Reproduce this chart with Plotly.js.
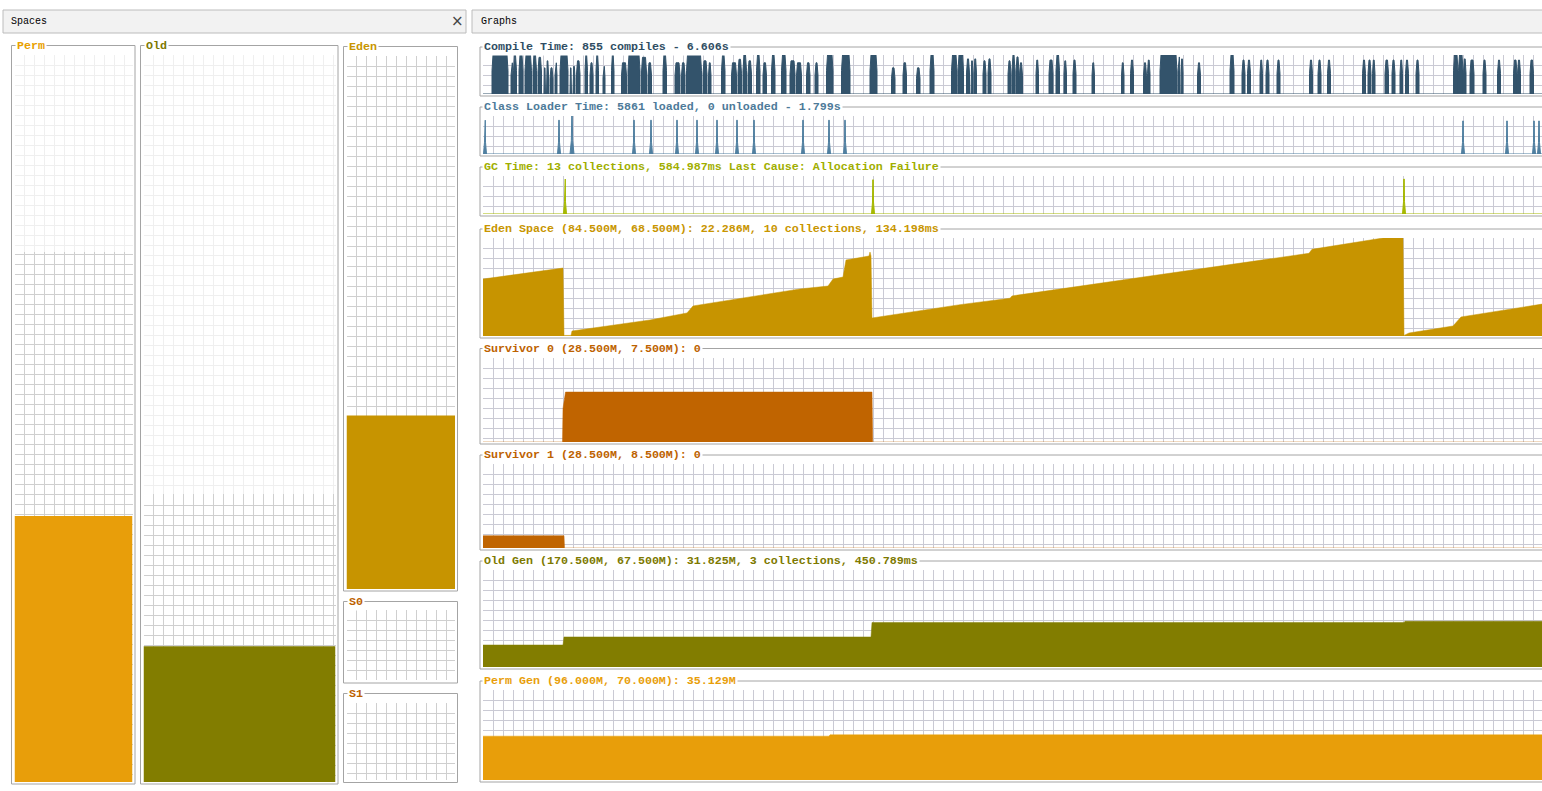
<!DOCTYPE html>
<html><head><meta charset="utf-8">
<script src="https://cdn.plot.ly/plotly-3.0.1.min.js"></script>
<style>html,body{margin:0;padding:0;background:#fff;overflow:hidden}#chart{width:1542px;height:791px}</style>
</head><body><div id="chart"></div>
<script>
// ================= DATA =================
// time axis = sample index (one sample per pixel column in VisualGC)
const sampleCount = 1059;

// Compile Time bursts (sample start, sample end, % of scale)
const compileStart = [9,28,30.5,36,42,50,55,61,63.5,67,72,77,87,90,93.5,102,107,113,120,128.5,138.5,145,158.5,165,180,192,198.5,203.5,220,225.5,238.5,248.5,255,260,265,273.5,280,288.5,298.5,307,313.5,323.5,332,343.5,358.5,387,408.5,420,433.5,447,468.5,475,483.5,488,491,500,505,525,529,533,536.5,553,566,573,581,590,609,638.5,647.5,660.5,664.5,677,695,698,714.5,747,759,764.5,777,783,794,826.5,835,844.5,879.5,885,889.5,902,909,917,922.5,933,970.5,975.5,980.5,987,1000,1014.5,1030.5,1034.5,1047];
const compileEnd = [25,30,33.5,40,48.5,53.5,58.5,62.5,65.5,70,74,85,88.5,92,97,104.5,110,115.5,122,131,143.5,157,163.5,168.5,183.5,197,202,218.5,224,228,242,253.5,258.5,263.5,268.5,277,283.5,292,303,312,318.5,327,335,350,367,394,412,423.5,437,451,474,480.5,486.5,490,493.5,503,508,528,532,536,539.5,555.5,570,576.5,583.5,593,611.5,641,650.5,663.5,667,694,697,700,717.5,751,762,767.5,779.5,786,797,829.5,838,847.5,882.5,888,892,905.5,912,919.5,925.5,936,975,980,983,991,1003,1017.5,1034,1037.5,1050.5];
const compileHeight = [100,80,100,100,100,100,94,67,85,67,80,100,67,71,85,100,80,100,71,100,80,100,94,80,100,80,80,100,85,80,100,80,89,100,85,100,80,100,100,85,80,80,80,100,100,100,67,80,67,100,100,100,90,85,90,85,90,85,100,95,80,87,87,100,85,87,80,80,87,80,87,100,95,90,80,100,87,87,87,87,87,87,87,87,87,87,87,87,87,87,87,87,100,100,90,87,87,87,87,87,87];

// Class loader spikes
const classT = [2,76,89,151,168,194,214,234,254,271,320,346,362,980,1024,1051,1056];
const classHeight = [89,89,100,89,89,89,89,89,89,89,89,89,89,87,87,87,87];
const classWidth = [3,3,4,3,3,3,3,3,3,3,3,3,3,3,3,3,3];

// GC time spikes
const gcT = [82,390,921];
const gcHeight = [92,90,92];
const gcWidth = [3,3,3];

// Eden space used (MB)
const edenT  = [0,80,81,88,89,167,204,210,317,345,350,360,363,386,387,388,389,477,527,529,662,826,829,885,900,920,921,926,970,978,1059];
const edenMB = [39.8,47.5,0.4,0.4,3.5,11.2,16.1,21.0,32.9,34.9,39.8,41.2,53.1,55.9,58.7,55.9,12.6,21.9,26.4,28.0,41.4,57.8,60.6,67.1,68.5,68.5,0.4,2.1,7.0,13.3,22.286];

// Survivor 0 / 1 used (MB)
const s0T  = [0,79.5,80,82.5,389,389.7,1059];
const s0MB = [0,0,3.0,4.46,4.46,0,0];
const s1T  = [0,81,81.5,1059];
const s1MB = [1.25,1.25,0,0];

// Old gen used (MB)
const oldT  = [0,80,81,388,389,921,922,1059];
const oldMB = [15.3,15.3,20.9,20.9,31.0,31.0,31.825,31.825];

// Perm gen used (MB)
const permT  = [0,346,347,1059];
const permMB = [34.1,34.1,35.129,35.129];

// graph scales (max of y axis)
const graphScale = [100,100,100,68.5,7.5,8.5,67.5,70];

const graphTitles = [
  "Compile Time: 855 compiles - 6.606s",
  "Class Loader Time: 5861 loaded, 0 unloaded - 1.799s",
  "GC Time: 13 collections, 584.987ms Last Cause: Allocation Failure",
  "Eden Space (84.500M, 68.500M): 22.286M, 10 collections, 134.198ms",
  "Survivor 0 (28.500M, 7.500M): 0",
  "Survivor 1 (28.500M, 8.500M): 0",
  "Old Gen (170.500M, 67.500M): 31.825M, 3 collections, 450.789ms",
  "Perm Gen (96.000M, 70.000M): 35.129M"
];

// Spaces panel
const spaceNames = ["Perm","Old","Eden","S0","S1"];
const spaceScale = [96,170.5,68.5,7.5,8.5];
const spaceCapacity = [70,67.5,68.5,7.5,8.5];
const spaceUsed = [35.129,31.825,22.286,0,0];

// ================= STYLE / LAYOUT =================
const W = 1542, H = 791;
const px = v => v / W;
const py = v => 1 - v / H;
const MONO = '"Liberation Mono", "Courier New", monospace';

const graphColors = ['#33536b','#4f7fa0','#a6b800','#c79400','#c06400','#c06400','#827d00','#e89e0a'];
const graphTitleColors = ['#2f4d63','#4d7a99','#9fae00','#c89500','#bd6200','#bd6200','#7d7900','#e89e0a'];
const graphPlotTop = [55,116,176,238,358,464,570,690];
const graphPlotBottom = [94,154,214,336,442,548,667,780];
const graphTitleY = [47,107,167,229,348.5,455,561,681];
const graphBoxBottom = [96,156,216,338,444,550,669,782];
const graphLeft = 483, graphBoxLeft = 480;

const spaceColors = ['#e89e0a','#827d00','#c79400','#c06400','#c06400'];
const spaceTitleColors = ['#e8a000','#7d7900','#c89500','#bd6200','#bd6200'];
const spaceBox = [[11.5,45.5,135,784],[140.5,45.5,338,784],[343.5,46.5,457.5,591],[343.5,601.5,457.5,683],[343.5,693.5,457.5,782.5]];
const spaceInner = [[14.5,55,132.5,782],[143.5,55,335.5,782],[346.5,56,455,589],[346.5,610,455,680],[346.5,703,455,780]];

const GRAPH_GRID = '#cacad4';
const SPACE_GRID = '#cfcfcf';
const SPACE_FAINT = '#efefef';
const BORDER = '#a4a4a4';

const layout = {
  width: W, height: H,
  margin: {l:0, r:0, t:0, b:0, pad:0},
  paper_bgcolor: '#ffffff', plot_bgcolor: '#ffffff',
  showlegend: false, hovermode: false,
  shapes: [], annotations: []
};
const traces = [];
let axN = 0;
function addAxes(x0, x1, y0, y1, xr, yr, xdt, xt0, ydt, yt0, gc) {
  axN++;
  const s = axN === 1 ? '' : String(axN);
  const common = {tickmode:'linear', showgrid:true, gridcolor:gc, gridwidth:1, zeroline:false,
    showline:false, showticklabels:false, ticks:'', fixedrange:true};
  layout['xaxis' + s] = Object.assign({domain:[px(x0), px(x1)], range:xr, anchor:'y'+s, dtick:xdt, tick0:xt0}, common);
  layout['yaxis' + s] = Object.assign({domain:[py(y1), py(y0)], range:yr, anchor:'x'+s, dtick:ydt, tick0:yt0}, common);
  return {x:'x'+s, y:'y'+s};
}
function rect(x0, y0, x1, y1, line, fill) {
  layout.shapes.push({type:'rect', xref:'paper', yref:'paper', layer:'below',
    x0:px(x0), x1:px(x1), y0:py(y1), y1:py(y0),
    line:{color:line, width:line ? 1 : 0}, fillcolor: fill || 'rgba(0,0,0,0)'});
}
function label(text, xLeft, yMid, color, size, bold, bg, pad) {
  layout.annotations.push({xref:'paper', yref:'paper', x:px(xLeft), y:py(yMid),
    xanchor:'left', yanchor:'middle', showarrow:false,
    text: bold ? '<b>' + text + '</b>' : text,
    font:{family:MONO, size:size, color:color},
    bgcolor: bg || 'rgba(0,0,0,0)', borderpad: pad || 0});
}
function burstPolygon(starts, ends, heights) {
  const x = [0], y = [0];
  for (let i = 0; i < starts.length; i++) {
    const s = starts[i], e = ends[i], h = heights[i];
    const c = Math.min(1, (e - s) / 3);
    x.push(s, s, s + c, e - c, e, e);
    y.push(0, h * 0.6, h, h, h * 0.6, 0);
  }
  x.push(sampleCount); y.push(0);
  return {x, y};
}
function spikePolygon(ts, heights, widths) {
  const x = [0], y = [0];
  for (let i = 0; i < ts.length; i++) {
    const t = ts[i], h = heights[i], w = widths[i];
    x.push(t - w/2, t - w/6, t - 0.25, t + 0.25, t + w/6, t + w/2);
    y.push(0, h * 0.35, h, h, h * 0.35, 0);
  }
  x.push(sampleCount); y.push(0);
  return {x, y};
}

// ---- headers ----
rect(3, 10, 466, 33, '#bcbcbc', '#f2f2f2');
rect(472, 10, 1600, 33, '#bcbcbc', '#f2f2f2');
label('Spaces', 10, 22, '#000000', 10, false);
label('Graphs', 480, 22, '#000000', 10, false);
layout.annotations.push({xref:'paper', yref:'paper', x:px(457), y:py(21), xanchor:'center', yanchor:'middle',
  showarrow:false, text:'×', font:{family:'DejaVu Sans', size:15, color:'#444'}});

// ---- graphs ----
const graphSeries = [
  burstPolygon(compileStart, compileEnd, compileHeight),
  spikePolygon(classT, classHeight, classWidth),
  spikePolygon(gcT, gcHeight, gcWidth),
  {x: edenT, y: edenMB},
  {x: s0T, y: s0MB},
  {x: s1T, y: s1MB},
  {x: oldT, y: oldMB},
  {x: permT, y: permMB}
];
for (let i = 0; i < 8; i++) {
  const top = graphPlotTop[i], bot = graphPlotBottom[i];
  const hpx = bot - top;
  const ydt = graphScale[i] * 10 / hpx;
  const ax = addAxes(graphLeft, W, top, bot, [0, sampleCount], [0, graphScale[i]], 10, 0, ydt, graphScale[i], GRAPH_GRID);
  rect(graphBoxLeft, graphTitleY[i], 1600, graphBoxBottom[i], BORDER, null);
  const d = graphSeries[i];
  traces.push({type:'scatter', mode:'lines', x:d.x, y:d.y, fill:'tozeroy',
    fillcolor:graphColors[i], line:{color:graphColors[i], width: i < 3 ? 1 : 0.5},
    xaxis:ax.x, yaxis:ax.y, hoverinfo:'skip'});
  label(graphTitles[i], 482, graphTitleY[i], graphTitleColors[i], 11.67, true, '#ffffff', 1);
}

// ---- spaces ----
for (let i = 0; i < spaceNames.length; i++) {
  const [ix0, iy0, ix1, iy1] = spaceInner[i];
  const hpx = iy1 - iy0, wpx = ix1 - ix0;
  const sc = spaceScale[i], cap = spaceCapacity[i];
  const ydt = sc * 10 / hpx, xdt = 10 / wpx;
  const capY = iy1 - cap / sc * hpx;
  if (cap < sc) {
    const fa = addAxes(ix0, ix1, iy0, capY, [0, 1], [cap, sc], xdt, 0, ydt, sc, SPACE_FAINT);
    traces.push({type:'scatter', mode:'markers', x:[], y:[], xaxis:fa.x, yaxis:fa.y, hoverinfo:'skip'});
  }
  const ax = addAxes(ix0, ix1, capY, iy1, [0, 1], [0, cap], xdt, 0, ydt, sc, SPACE_GRID);
  traces.push({type:'bar', x:[0.5], y:[spaceUsed[i]], width:[1], marker:{color:spaceColors[i], line:{width:0}},
    xaxis:ax.x, yaxis:ax.y, hoverinfo:'skip'});
  const b = spaceBox[i];
  rect(b[0], b[1], b[2], b[3], BORDER, null);
  label(spaceNames[i], b[0] + 3, b[1] + 0.5, spaceTitleColors[i], 11.67, true, '#ffffff', 1);
}

Plotly.newPlot('chart', traces, layout, {staticPlot:true, displayModeBar:false});
</script>
</body></html>
